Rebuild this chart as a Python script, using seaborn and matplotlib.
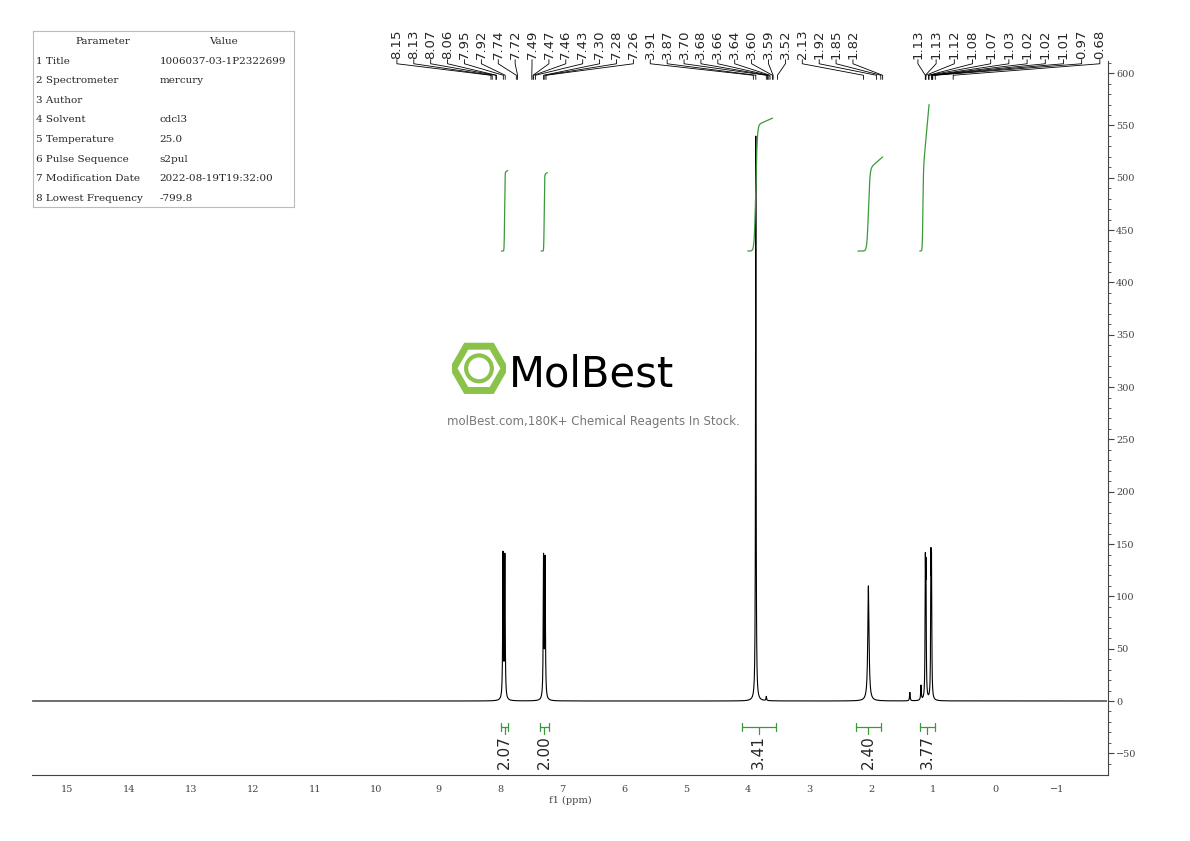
import numpy as np
import pandas as pd
import seaborn as sns
import matplotlib.pyplot as plt
from matplotlib.patches import RegularPolygon, Circle

# peaks (ppm, height)
peak_ppm = [7.955, 7.925, 7.30, 7.275, 3.87, 3.70, 2.05, 1.38, 1.20, 1.13, 1.12, 1.04, 1.03]
peak_height = [138, 136, 134, 132, 540, 4, 110, 8, 14, 118, 112, 122, 116]
peak_width = [0.006, 0.006, 0.006, 0.006, 0.005, 0.006, 0.012, 0.006, 0.006, 0.005, 0.005, 0.005, 0.005]

# integrals
int_values = ["2.07", "2.00", "3.41", "2.40", "3.77"]
int_start = [7.98, 7.35, 4.10, 2.25, 1.22]
int_end = [7.88, 7.22, 3.55, 1.85, 0.98]

# integral curves: (ppm start, mid, end), (y start, mid, end)
curve_ppm = [(7.98, 7.93, 7.88), (7.34, 7.29, 7.24), (4.00, 3.87, 3.60),
             (2.22, 2.05, 1.82), (1.22, 1.17, 1.07)]
curve_y = [(430, 505, 507), (430, 503, 505), (430, 550, 557),
           (430, 508, 520), (430, 505, 570)]

peak_labels = ["8.15", "8.13", "8.07", "8.06", "7.95", "7.92", "7.74", "7.72", "7.49", "7.47",
               "7.46", "7.43", "7.30", "7.28", "7.26", "3.91", "3.87", "3.70", "3.68", "3.66",
               "3.64", "3.60", "3.59", "3.52", "2.13", "1.92", "1.85", "1.82"]
peak_labels2 = ["1.13", "1.13", "1.12", "1.08", "1.07", "1.03", "1.02", "1.02", "1.01", "0.97", "0.68"]

params = [("Parameter", "Value"), ("1 Title", "1006037-03-1P2322699"), ("2 Spectrometer", "mercury"),
          ("3 Author", ""), ("4 Solvent", "cdcl3"), ("5 Temperature", "25.0"),
          ("6 Pulse Sequence", "s2pul"), ("7 Modification Date", "2022-08-19T19:32:00"),
          ("8 Lowest Frequency", "-799.8")]

sns.set_style("white")
plt.rcParams['font.family'] = ['DejaVu Serif']

x = np.linspace(15.56, -1.8, 40000)
y = np.zeros_like(x)
for p, h, w in zip(peak_ppm, peak_height, peak_width):
    y += h * w**2 / ((x - p)**2 + w**2)
df = pd.DataFrame({"ppm": x, "intensity": y})

fig = plt.figure(figsize=(11.9, 8.41), dpi=100)
ax = fig.add_axes([0.027, 0.0785, 0.904, 0.8855])
sns.lineplot(data=df, x="ppm", y="intensity", ax=ax, color="black", linewidth=0.8)
ax.set_xlim(15.565, -1.82)
ax.set_ylim(-70.7, 641)

for s in ["top", "left"]:
    ax.spines[s].set_visible(False)
ax.spines["right"].set_bounds(-70.7, 612)
for s in ["right", "bottom"]:
    ax.spines[s].set_color("#444444")
    ax.spines[s].set_linewidth(0.8)
ax.yaxis.tick_right()
ax.set_yticks(np.arange(-50, 601, 50))
ax.set_yticks(np.arange(-60, 611, 10), minor=True)
ax.set_xticks(np.arange(-1, 16, 1))
ax.set_xticks(np.arange(-1.8, 15.6, 0.2), minor=True)
ax.set_xticklabels([str(int(t)).replace("-", "−") for t in np.arange(-1, 16, 1)])
ax.tick_params(axis="both", which="major", direction="out", length=4, labelsize=7, color="#444444", labelcolor="#444444")
ax.tick_params(axis="both", which="minor", direction="out", length=2, color="#444444")
ax.tick_params(axis="y", pad=2)
ax.set_xlabel("f1 (ppm)", fontsize=7, labelpad=1, color="#444444")
ax.set_ylabel("")

# integral curves
green = "#3a9a3a"
for (p0, p1, p2), (y0, y1, y2) in zip(curve_ppm, curve_y):
    cx = np.linspace(p0, p2, 200)
    cy = (y0 + (y1 - y0) * 0.5 * (1 + np.tanh((p1 - cx) / (abs(p0 - p2) * 0.06)))
          + (y2 - y1) * np.clip((p1 - cx) / (p1 - p2), 0, 1))
    ax.plot(cx, cy, color=green, linewidth=0.9)

# integration brackets
for v, a, b in zip(int_values, int_start, int_end):
    ax.plot([a, b], [-25, -25], color=green, linewidth=0.9)
    ax.plot([a, a], [-21, -29], color=green, linewidth=0.9)
    ax.plot([b, b], [-21, -29], color=green, linewidth=0.9)
    m = (a + b) / 2
    ax.plot([m, m], [-25, -32], color=green, linewidth=0.9)
    ax.text(m, -33, v, rotation=90, ha="center", va="top", fontsize=11, family="DejaVu Sans")

# peak labels
def label_group(labels, lx0, lx1):
    pos = np.linspace(lx0, lx1, len(labels))
    for lab, lx in zip(labels, pos):
        px = float(lab)
        ax.text(lx, 614, lab, rotation=90, ha="center", va="bottom", fontsize=9.5, family="DejaVu Sans")
        ax.plot([lx, lx, px, px], [613, 609, 598, 594], color="black", linewidth=0.6)

label_group(peak_labels, 9.67, 2.30)
label_group(peak_labels2, 1.25, -1.69)

# parameter table
tx = fig.add_axes([0.0277, 0.754, 0.219, 0.209])
tx.set_xticks([]); tx.set_yticks([])
for s in tx.spines.values():
    s.set_color("#bbbbbb"); s.set_linewidth(0.8)
n = len(params)
for i, (k, v) in enumerate(params):
    yy = 1 - (i + 0.55) / n
    if i == 0:
        tx.text(0.27, yy, k, ha="center", va="center", fontsize=7.5)
        tx.text(0.73, yy, v, ha="center", va="center", fontsize=7.5)
    else:
        tx.text(0.01, yy, k, ha="left", va="center", fontsize=7.5)
        tx.text(0.485, yy, v, ha="left", va="center", fontsize=7.5)

# watermark
wx = fig.add_axes([0.38, 0.53, 0.045, 0.064])
wx.set_xlim(-1, 1); wx.set_ylim(-1, 1); wx.axis("off")
wx.add_patch(RegularPolygon((0, 0), 6, radius=0.95, orientation=np.pi / 6, facecolor="none", edgecolor="#8bc34a", linewidth=5))
wx.add_patch(Circle((0, 0), 0.48, facecolor="none", edgecolor="#8bc34a", linewidth=3))
fig.text(0.428, 0.555, "MolBest", fontsize=30, family="DejaVu Sans", va="center", color="black")
fig.text(0.499, 0.499, "molBest.com,180K+ Chemical Reagents In Stock.", fontsize=8.5, family="DejaVu Sans", ha="center", va="center", color="#777777")

fig.savefig("out.png", dpi=100)
